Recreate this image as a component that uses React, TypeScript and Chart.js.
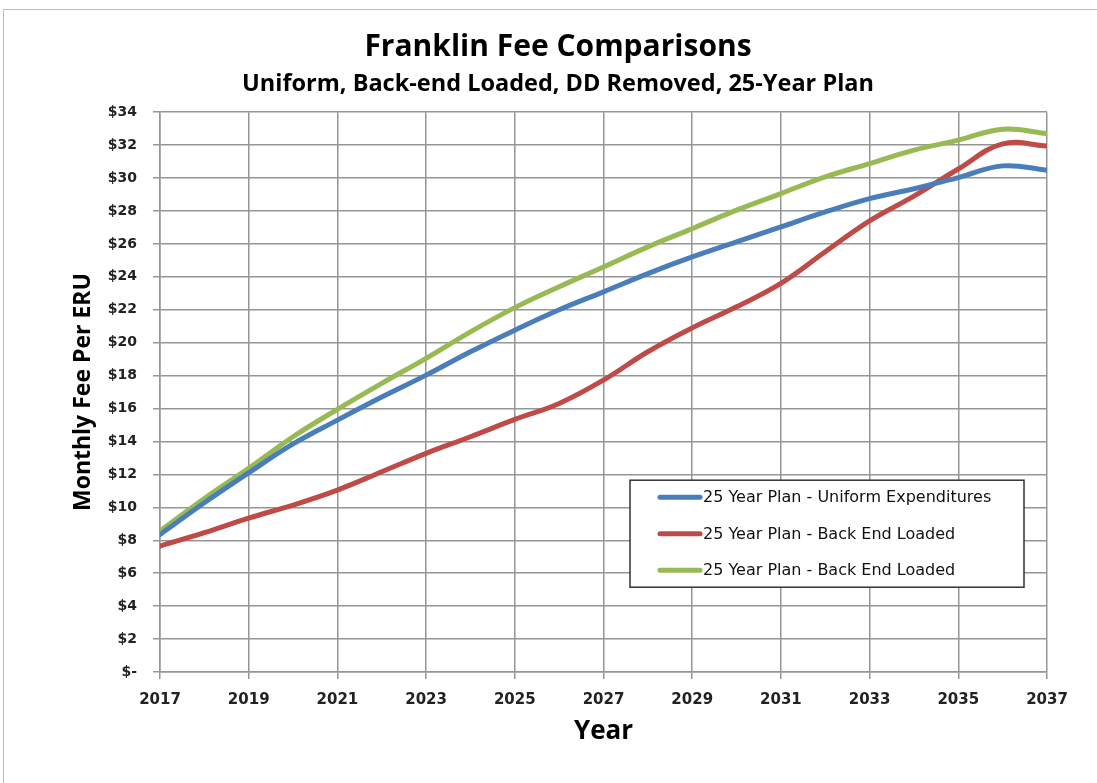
import React, { useEffect, useRef } from "react";
import { Chart, registerables } from "chart.js";

Chart.register(...registerables);

const years = [2017, 2018, 2019, 2020, 2021, 2022, 2023, 2024, 2025, 2026, 2027, 2028, 2029, 2030, 2031, 2032, 2033, 2034, 2035, 2036, 2037];
const uniform = [8.35, 10.28, 12.1, 13.85, 15.3, 16.7, 18.03, 19.45, 20.76, 22.0, 23.09, 24.2, 25.21, 26.12, 27.03, 27.94, 28.75, 29.35, 30.03, 30.74, 30.48];
const backEnd = [7.65, 8.46, 9.35, 10.14, 11.05, 12.16, 13.28, 14.29, 15.34, 16.31, 17.73, 19.45, 20.9, 22.18, 23.6, 25.52, 27.4, 28.9, 30.55, 32.08, 31.95];
const backEnd2 = [8.56, 10.54, 12.37, 14.29, 15.95, 17.53, 19.05, 20.66, 22.13, 23.4, 24.6, 25.82, 26.93, 28.05, 29.06, 30.07, 30.88, 31.7, 32.3, 32.97, 32.7];
const seriesNames = ["25 Year Plan - Uniform Expenditures", "25 Year Plan - Back End Loaded", "25 Year Plan - Back End Loaded"];
const seriesColors = ["#4A7EBB", "#BE4B48", "#98B954"];
const titleText = "Franklin Fee Comparisons";
const subtitleText = "Uniform, Back-end Loaded, DD Removed, 25-Year Plan";
const yTitle = "Monthly Fee Per ERU";
const xTitle = "Year";

const FONT = "'Open Sans', Lato, sans-serif";
const TICKFONT = "'DejaVu Sans', sans-serif";
const GRID = "rgb(150,150,150)";

const boxLegend = {
  id: "boxLegend",
  afterDraw(chart: any) {
    const { ctx, chartArea } = chart;
    const x0 = chartArea.right - 417;
    const y0 = chartArea.top + 368;
    const w = 394;
    const h = 107;
    ctx.save();
    ctx.fillStyle = "#ffffff";
    ctx.fillRect(x0, y0, w, h);
    ctx.strokeStyle = "#333333";
    ctx.lineWidth = 1.5;
    ctx.strokeRect(x0, y0, w, h);
    chart.data.datasets.forEach((ds: any, i: number) => {
      const y = y0 + 17 + i * 36.5;
      ctx.strokeStyle = ds.borderColor;
      ctx.lineWidth = 5;
      ctx.lineCap = "round";
      ctx.beginPath();
      ctx.moveTo(x0 + 30, y);
      ctx.lineTo(x0 + 70, y);
      ctx.stroke();
      ctx.fillStyle = "#111";
      ctx.font = "16px 'DejaVu Sans', sans-serif";
      ctx.textBaseline = "middle";
      ctx.textAlign = "left";
      ctx.fillText(ds.label, x0 + 73, y + 1);
    });
    ctx.restore();
  },
};

export default function App() {
  const ref = useRef<HTMLCanvasElement | null>(null);
  useEffect(() => {
    if (!ref.current) return;
    const mk = (vals: number[]) => years.map((x, i) => ({ x, y: vals[i] }));
    const chart = new Chart(ref.current, {
      type: "line",
      data: {
        datasets: [uniform, backEnd, backEnd2].map((vals, i) => ({
          label: seriesNames[i],
          data: mk(vals),
          borderColor: seriesColors[i],
          backgroundColor: seriesColors[i],
          borderWidth: 5,
          pointRadius: 0,
          tension: 0.4,
          borderCapStyle: "round" as const,
          fill: false,
        })),
      },
      options: {
        animation: false,
        responsive: false,
        devicePixelRatio: 1,
        layout: { padding: { left: 69, right: 50, top: 29, bottom: 0 } },
        plugins: {
          legend: { display: false },
          tooltip: { enabled: false },
          title: {
            display: true,
            text: titleText,
            color: "#000",
            font: { family: FONT, size: 30, weight: "bold", lineHeight: 1.2 },
            padding: { top: 0, bottom: 0 },
          },
          subtitle: {
            display: true,
            text: subtitleText,
            color: "#000",
            font: { family: FONT, size: 23.5, weight: "bold", lineHeight: 1.2 },
            padding: { top: 5, bottom: 14 },
          },
        },
        scales: {
          x: {
            type: "linear",
            min: 2017,
            max: 2037,
            afterFit: (s: any) => { s.height = 111; },
            ticks: {
              stepSize: 2,
              autoSkip: false,
              maxRotation: 0,
              padding: 12,
              color: "#222",
              font: { family: TICKFONT, size: 15, weight: "bold" },
              callback: (v: any) => String(v),
            },
            grid: { color: GRID, lineWidth: 1.5, tickLength: 7 },
            border: { color: GRID, width: 1.5 },
            title: {
              display: true,
              text: xTitle,
              color: "#000",
              font: { family: FONT, size: 26, weight: "bold", lineHeight: 1.2 },
              padding: { top: 0, bottom: 36 },
            },
          },
          y: {
            min: 0,
            max: 34,
            afterFit: (s: any) => { s.width = 91; },
            ticks: {
              stepSize: 2,
              padding: 16,
              color: "#222",
              font: { family: TICKFONT, size: 14, weight: "bold" },
              callback: (v: any) => (Number(v) === 0 ? "$-" : "$" + v),
            },
            grid: { color: GRID, lineWidth: 1.5, tickLength: 7 },
            border: { color: GRID, width: 1.5 },
            title: {
              display: true,
              text: yTitle,
              color: "#000",
              font: { family: FONT, size: 23, weight: "bold", lineHeight: 1.2 },
              padding: { top: 1, bottom: 0 },
            },
          },
        },
      },
      plugins: [boxLegend],
    });
    return () => chart.destroy();
  }, []);

  return (
    <div style={{ position: "absolute", left: 0, top: 0, width: 1097, height: 783, overflow: "hidden", background: "#fff" }}>
      <div style={{ position: "absolute", left: 3, top: 9, width: 1200, height: 900, border: "1px solid #bcbcbc" }} />
      <canvas ref={ref} width={1097} height={783} style={{ position: "absolute", left: 0, top: 0, width: 1097, height: 783 }} />
    </div>
  );
}
